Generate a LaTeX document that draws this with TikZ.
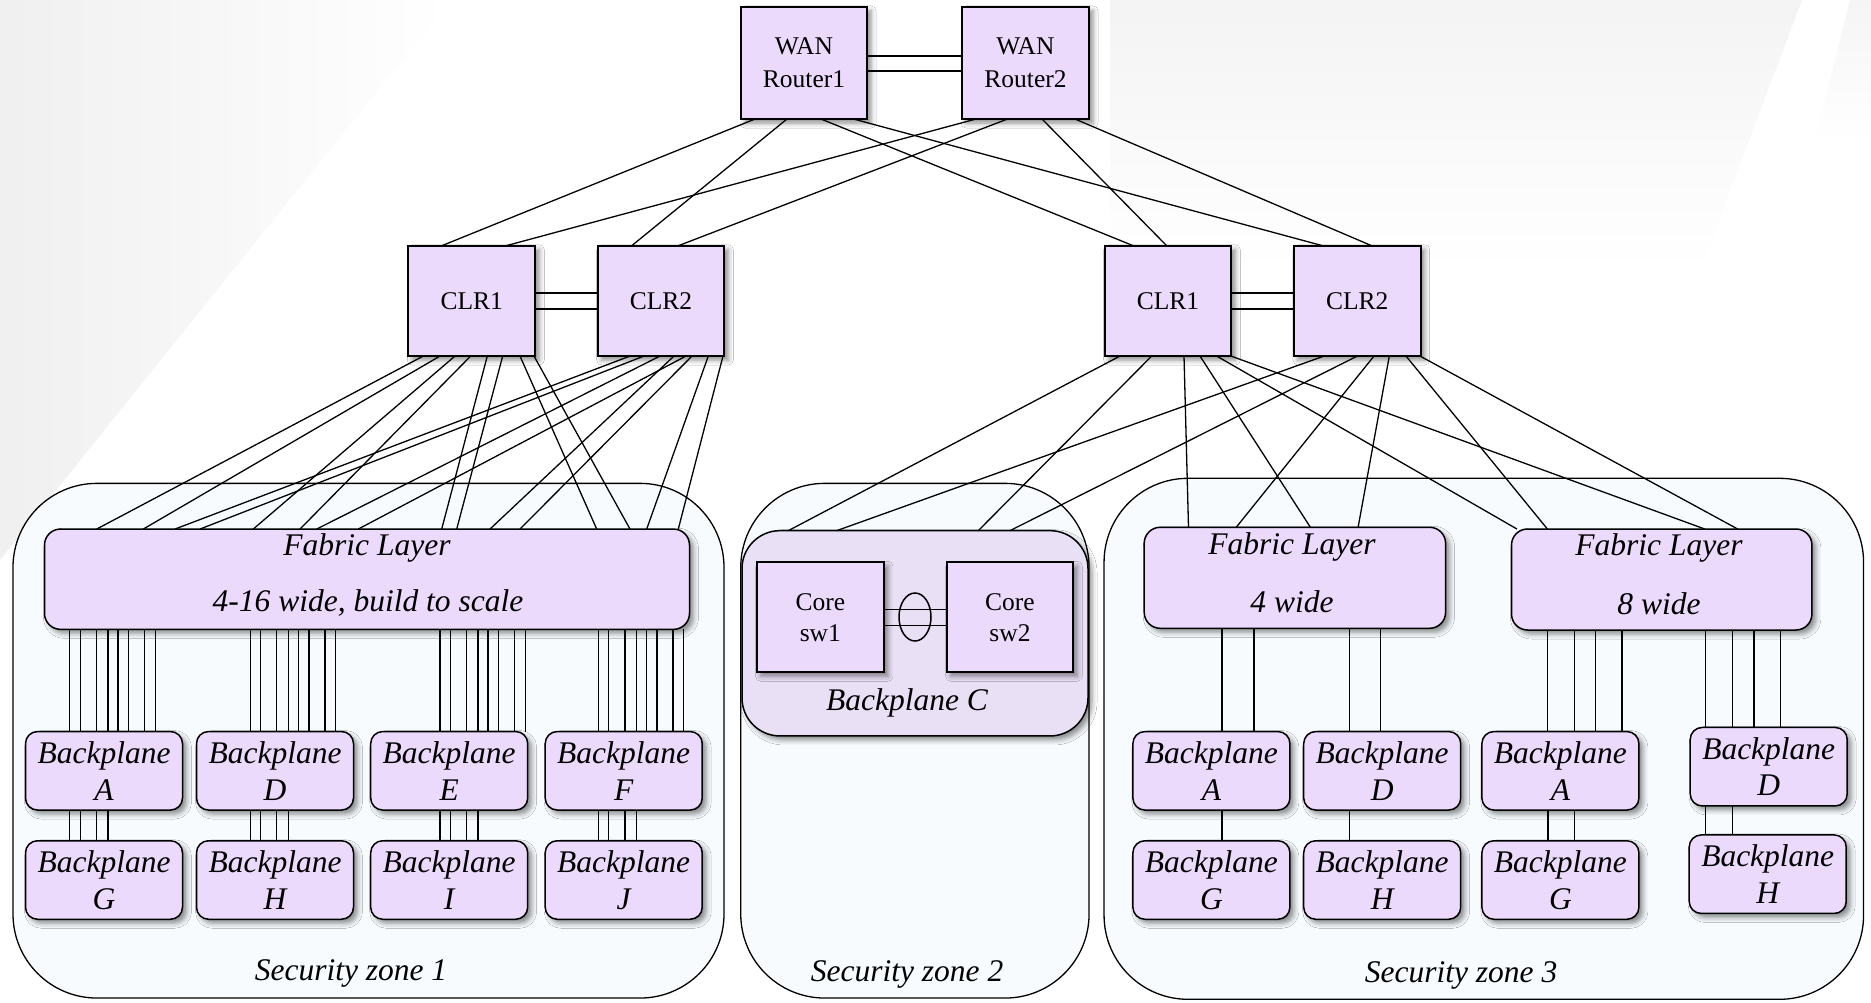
\documentclass[tikz,border=0pt]{standalone}
\usepackage{fontspec}
\setmainfont{Liberation Serif}
\usetikzlibrary{calc,shapes.geometric,shadows.blur}
\definecolor{lav}{RGB}{236,218,252}
\definecolor{lavc}{RGB}{233,224,245}
\definecolor{zonef}{RGB}{247,251,253}
\newcommand\upf{\fontsize{25.5}{33}\selectfont}
\newcommand\upc{\fontsize{25.5}{31}\selectfont}
\newcommand\itf{\fontsize{31.5}{36.7}\selectfont\itshape}
\newcommand\lnk[4]{\coordinate (tmpa) at (#2,0); \coordinate (tmpb) at (#4,0); \draw[conn] (#1.south -| tmpa) -- (#3.north -| tmpb);}
\begin{document}
\begin{tikzpicture}[x=1pt,y=-1pt,
  conn/.style={line width=1.3pt, black},
  shd/.style={blur shadow={shadow xshift=4pt, shadow yshift=-4pt, shadow opacity=45, shadow blur radius=5pt}},
  sq/.style={rectangle, draw, line width=2pt, fill=lav, outer sep=0pt, inner sep=0pt, align=center, font=\upf, shd},
  zone/.style={rectangle, draw, line width=1.3pt, fill=zonef, rounded corners=84pt, outer sep=0pt},
  fab/.style={rectangle, draw, line width=1.5pt, fill=lav, rounded corners=16pt, outer sep=0pt, shd},
  bp/.style={rectangle, draw, line width=1.5pt, fill=lav, rounded corners=12pt, outer sep=0pt, inner sep=0pt,
    minimum width=157pt, minimum height=78.5pt, align=center, font=\itf, shd},
  lbl/.style={inner sep=0pt, font=\itf}]
\useasboundingbox (0,0) rectangle (1871,1003);
% background
\fill[white] (0,0) rectangle (1871,1003);
\path[left color=gray!12, right color=white] (0,0) -- (450,0) -- (0,560) -- cycle;
\path[top color=gray!9, bottom color=white] (1110,0) -- (1802,0) -- (1700,270) -- (1110,270) -- cycle;
\path[top color=gray!8, bottom color=white] (1850,0) -- (1871,0) -- (1871,140) -- (1815,140) -- cycle;
% zones
\node[zone, minimum width=711pt, minimum height=514.7pt] (z1) at (368.5,740.7) {};
\node[zone, minimum width=348.3pt, minimum height=514.7pt] (z2) at (914.9,740.7) {};
\node[zone, minimum width=759.5pt, minimum height=521pt] (z3) at (1483.8,738.8) {};
\node[lbl] (z1t) at (351,973) {Security zone 1};
\node[lbl] (z2t) at (907,974) {Security zone 2};
\node[lbl] (z3t) at (1461,975) {Security zone 3};
% WAN routers
\node[sq, minimum width=126pt, minimum height=112pt] (w1) at (804,63) {WAN\\Router1};
\node[sq, minimum width=127pt, minimum height=112pt] (w2) at (1025.5,63) {WAN\\Router2};
\draw[conn] ($(w1.east)+(0,-7)$) -- ($(w2.west)+(0,-7)$);
\draw[conn] ($(w1.east)+(0,8)$) -- ($(w2.west)+(0,8)$);
% CLRs
\node[sq, minimum width=127pt, minimum height=110.3pt] (c1l) at (471.8,300.9) {CLR1};
\node[sq, minimum width=126.6pt, minimum height=110.3pt] (c2l) at (661,300.9) {CLR2};
\node[sq, minimum width=126.6pt, minimum height=110.3pt] (c1r) at (1168,300.9) {CLR1};
\node[sq, minimum width=126.7pt, minimum height=110.3pt] (c2r) at (1357.3,300.9) {CLR2};
\draw[conn] ($(c1l.east)+(0,-8)$) -- ($(c2l.west)+(0,-8)$);
\draw[conn] ($(c1l.east)+(0,8)$) -- ($(c2l.west)+(0,8)$);
\draw[conn] ($(c1r.east)+(0,-8)$) -- ($(c2r.west)+(0,-8)$);
\draw[conn] ($(c1r.east)+(0,8)$) -- ($(c2r.west)+(0,8)$);
% fabric layers
\node[fab, minimum width=645pt, minimum height=100.3pt] (f1) at (367,579.2) {};
\node[lbl] (f1a) at (367,548.3) {Fabric Layer};
\node[lbl] (f1b) at (368,603.3) {4-16 wide, build to scale};
\node[fab, minimum width=301.4pt, minimum height=101pt] (f4) at (1294.9,577.8) {};
\node[lbl] (f4a) at (1292,546.7) {Fabric Layer};
\node[lbl] (f4b) at (1292,601.7) {4 wide};
\node[fab, minimum width=300.4pt, minimum height=101pt] (f8) at (1661.7,579.5) {};
\node[lbl] (f8a) at (1659,548.3) {Fabric Layer};
\node[lbl] (f8b) at (1659,603.3) {8 wide};
% backplane C
\node[rectangle, draw, line width=1.5pt, fill=lavc, rounded corners=38pt, outer sep=0pt, shd,
  minimum width=346pt, minimum height=205.3pt] (bpc) at (915,633.3) {};
\node[sq, font=\upc, minimum width=127.3pt, minimum height=110pt] (cs1) at (820.3,617.3) {Core\\sw1};
\node[sq, font=\upc, minimum width=126.6pt, minimum height=110pt] (cs2) at (1010,617.3) {Core\\sw2};
\draw[conn] ($(cs1.east)+(0,-8)$) -- ($(cs2.west)+(0,-8)$);
\draw[conn] ($(cs1.east)+(0,8)$) -- ($(cs2.west)+(0,8)$);
\node[ellipse, draw, line width=1.5pt, minimum width=32pt, minimum height=48pt, inner sep=0pt] (el) at (915,617) {};
\node[lbl] (bpct) at (907,703.3) {Backplane C};
% zone 1 backplanes
\node[bp] (bA) at (104,770.8) {Backplane\\A};
\node[bp] (bD) at (275,770.8) {Backplane\\D};
\node[bp] (bE) at (449.2,770.8) {Backplane\\E};
\node[bp] (bF) at (623.7,770.8) {Backplane\\F};
\node[bp] (bG) at (104,880) {Backplane\\G};
\node[bp] (bH) at (275,880) {Backplane\\H};
\node[bp] (bI) at (449.2,880) {Backplane\\I};
\node[bp] (bJ) at (623.7,880) {Backplane\\J};
% zone 3 backplanes
\node[bp] (cA) at (1211.4,770.8) {Backplane\\A};
\node[bp] (cD) at (1382.2,770.8) {Backplane\\D};
\node[bp] (cA2) at (1560.4,770.8) {Backplane\\A};
\node[bp] (cDr) at (1768.7,766.7) {Backplane\\D};
\node[bp] (cG) at (1211.4,880) {Backplane\\G};
\node[bp] (cH) at (1382.2,880) {Backplane\\H};
\node[bp] (cG2) at (1560.4,880) {Backplane\\G};
\node[bp] (cHr) at (1767.7,874.2) {Backplane\\H};
% zone 1 vertical links
\foreach \b/\t/\u in {69.8/bA/bG, 250.2/bD/bH, 439.9/bE/bI, 598.3/bF/bJ} {
  \foreach \o in {0,10.5,26.6,38.1,48.2,58.8,74.8,85.4} {
    \coordinate (tmpa) at (\b+\o,0);
    \draw[conn] (f1.south -| tmpa) -- (\t.north -| tmpa);
  }
  \foreach \o in {0,10.5,26.6,38.1} {
    \coordinate (tmpa) at (\b+\o,0);
    \draw[conn] (\t.south -| tmpa) -- (\u.north -| tmpa);
  }
}
% zone 3 vertical links
\foreach \x/\s/\t in {1221.9/f4/cA, 1253.9/f4/cA, 1349.3/f4/cD, 1380.7/f4/cD,
  1547.4/f8/cA2, 1574.4/f8/cA2, 1595.6/f8/cA2, 1622.1/f8/cA2,
  1705.7/f8/cDr, 1732.7/f8/cDr, 1753.9/f8/cDr, 1780.4/f8/cDr,
  1221.9/cA/cG, 1349.3/cD/cH, 1547.9/cA2/cG2, 1574.4/cA2/cG2, 1705.7/cDr/cHr, 1732.7/cDr/cHr} {
  \coordinate (tmpa) at (\x,0);
  \draw[conn] (\s.south -| tmpa) -- (\t.north -| tmpa);
}
% WAN to CLR
\lnk{w1}{755}{c1l}{441.7}
\lnk{w1}{787}{c2l}{631.7}
\lnk{w1}{821}{c1r}{1133.3}
\lnk{w1}{853.5}{c2r}{1322.7}
\lnk{w2}{976}{c1l}{506}
\lnk{w2}{1007.5}{c2l}{678.3}
\lnk{w2}{1042}{c1r}{1166.7}
\lnk{w2}{1075}{c2r}{1371.7}
% left CLRs to fabric
\lnk{c1l}{423.3}{f1}{96.7}
\lnk{c1l}{440}{f1}{143.3}
\lnk{c1l}{455}{f1}{253.3}
\lnk{c1l}{470.7}{f1}{300}
\lnk{c1l}{487.3}{f1}{441.7}
\lnk{c1l}{502.7}{f1}{456.7}
\lnk{c1l}{520}{f1}{596.7}
\lnk{c1l}{534}{f1}{630}
\lnk{c2l}{630}{f1}{175}
\lnk{c2l}{644}{f1}{200}
\lnk{c2l}{660}{f1}{316.7}
\lnk{c2l}{686}{f1}{358.3}
\lnk{c2l}{674}{f1}{490}
\lnk{c2l}{692}{f1}{520}
\lnk{c2l}{708.3}{f1}{646.7}
\lnk{c2l}{723}{f1}{678.3}
% right CLRs
\lnk{c1r}{1120}{bpc}{788.3}
\lnk{c1r}{1151.7}{bpc}{978.3}
\lnk{c1r}{1184}{f4}{1188.5}
\lnk{c1r}{1200}{f4}{1310.4}
\lnk{c1r}{1216.7}{f8}{1516.9}
\lnk{c1r}{1231}{f8}{1704.7}
\lnk{c2r}{1324}{bpc}{836.7}
\lnk{c2r}{1357.3}{bpc}{1010}
\lnk{c2r}{1374}{f4}{1236.2}
\lnk{c2r}{1389.3}{f4}{1358.1}
\lnk{c2r}{1406}{f8}{1547.4}
\lnk{c2r}{1420}{f8}{1737.6}
\end{tikzpicture}
\end{document}
